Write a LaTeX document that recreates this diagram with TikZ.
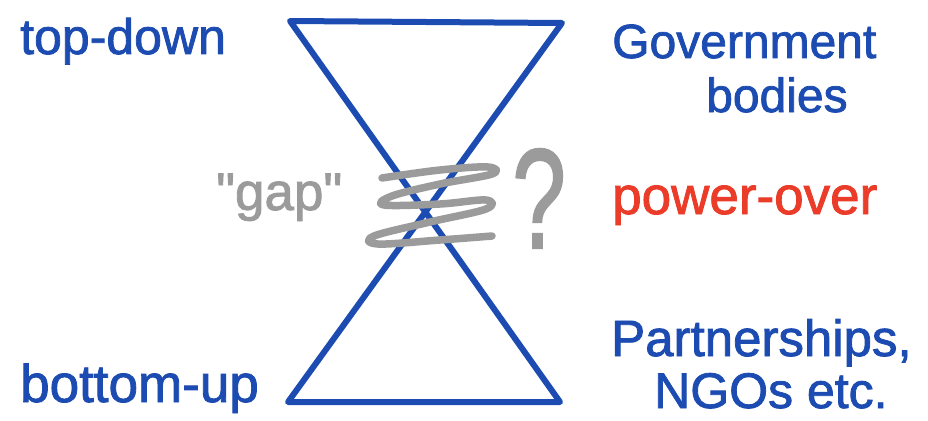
\documentclass[tikz,border=0pt]{standalone}
\usepackage{fontspec}
\setmainfont[FakeBold=1.6]{Liberation Sans}
\newfontfamily\gapfont[FakeBold=1.6,Ligatures=TeXOff]{Liberation Sans}
\definecolor{hblue}{RGB}{28,76,178}
\definecolor{hred}{RGB}{234,60,40}
\definecolor{hgray}{RGB}{155,155,155}
\begin{document}
\begin{tikzpicture}[x=1pt,y=-1pt,
  lbl/.style={anchor=base west,inner sep=0pt,text=hblue},
  sz/.style={font=\fontsize{#1}{#1}\selectfont}]
\useasboundingbox[fill=white] (0,0) rectangle (928,420);
% hourglass
\coordinate (tl) at (290,21);
\coordinate (tr) at (562,23);
\coordinate (bl) at (288,402);
\coordinate (br) at (560,402);
\draw[hblue,line width=6pt,line join=round,line cap=round] (tl) -- (tr) -- (bl) -- (br) -- cycle;
% scribble
\draw[hgray,line width=7.5pt,line cap=round,line join=round]
  plot[smooth,tension=0.6] coordinates {(382,178) (440,170) (488,167) (492,174) (440,184) (392,196) (384,205) (440,204) (486,200) (486,209) (430,222) (374,236) (378,244) (440,240) (492,236)};
% labels
\node[lbl,sz=50] (td) at (20,54) {top-down};
\node[lbl,sz=53] (bu) at (20,402) {bottom-up};
\node[lbl,sz=48] (gov) at (612,58) {Government};
\node[lbl,sz=48] (bod) at (706,112) {bodies};
\node[lbl,sz=53,text=hred] (po) at (612,214) {power-over};
\node[lbl,sz=51] (pa) at (611,356) {Partnerships,};
\node[lbl,sz=50] (ngo) at (654,408) {NGOs etc.};
\node[lbl,sz=53,text=hgray] (gap) at (216,210) {\gapfont "gap"};
\node[anchor=base west,inner sep=0pt,text=hgray,sz=142] (q) at (512,248) {\scalebox{0.68}[1]{?}};
\end{tikzpicture}
\end{document}
